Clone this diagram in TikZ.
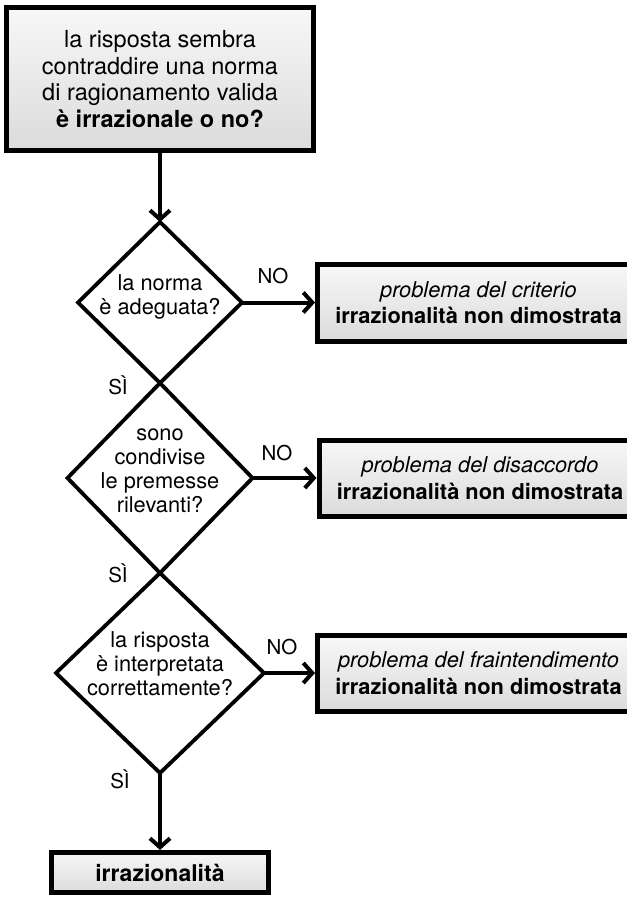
\documentclass[tikz,border=0pt]{standalone}
\usepackage{fontspec}
\setmainfont{TeX Gyre Heros}
\usetikzlibrary{shapes.geometric,arrows.meta}
\begin{document}
\begin{tikzpicture}[x=1pt,y=-1pt,
  box/.style={draw=black, line width=5pt, top color=gray!6, bottom color=gray!28, inner sep=0pt, align=center},
  boxtext/.style={font=\fontsize{21.8}{26.5}\selectfont},
  dia/.style={draw=black, line width=3.8pt, diamond, inner sep=0pt, outer sep=0pt, fill=white},
  dtext/.style={align=center, font=\fontsize{21.8}{24}\selectfont, inner sep=0pt},
  lab/.style={font=\fontsize{20.5}{24}\selectfont, inner sep=0pt},
  arr/.style={line width=4pt, -{Straight Barb[length=9pt,width=20pt]}},
]
\useasboundingbox (0,0) rectangle (627,898);

\node[box, minimum width=307.5pt, minimum height=142.5pt, font=\fontsize{23.5}{26.7}\selectfont] (top) at (160,79)
  {la risposta sembra\\contraddire una norma\\di ragionamento valida\\\textbf{è irrazionale o no?}};

\node[dia, minimum width=164pt, minimum height=161pt] (d1) at (160,302.5) {};
\node[dtext] (d1t) at (160,297) {la norma\\è adeguata?};

\node[dia, minimum width=185pt, minimum height=190pt] (d2) at (160,478) {};
\node[dtext] (d2t) at (160,470.5) {sono\\condivise\\le premesse\\rilevanti?};

\node[dia, minimum width=208pt, minimum height=200pt] (d3) at (160,673) {};
\node[dtext] (d3t) at (160,664) {la risposta\\è interpretata\\correttamente?};

\node[box, boxtext, minimum width=322pt, minimum height=77pt] (b1) at (478.5,302.5)
  {\textit{problema del criterio}\\\textbf{irrazionalità non dimostrata}};
\node[box, boxtext, minimum width=322pt, minimum height=76pt] (b2) at (480,478)
  {\textit{problema del disaccordo}\\\textbf{irrazionalità non dimostrata}};
\node[box, boxtext, minimum width=322pt, minimum height=76pt] (b3) at (478.5,673)
  {\textit{problema del fraintendimento}\\\textbf{irrazionalità non dimostrata}};

\node[box, minimum width=217pt, minimum height=40pt, font=\fontsize{23}{27}\selectfont\bfseries] (fin) at (160,872.5) {irrazionalità};

\draw[arr] (top.south) -- (d1.north);
\draw[arr] (d1.east) -- (b1.west);
\draw[arr] (d2.east) -- (b2.west);
\draw[arr] (d3.east) -- (b3.west);
\draw[arr] (d3.south) -- (fin.north);

\node[lab] (no1) at (273,276) {NO};
\node[lab] (no2) at (277,453) {NO};
\node[lab] (no3) at (282,647) {NO};
\node[lab] (si1) at (118,385) {SÌ};
\node[lab] (si2) at (118,573) {SÌ};
\node[lab] (si3) at (120,779) {SÌ};
\end{tikzpicture}
\end{document}
